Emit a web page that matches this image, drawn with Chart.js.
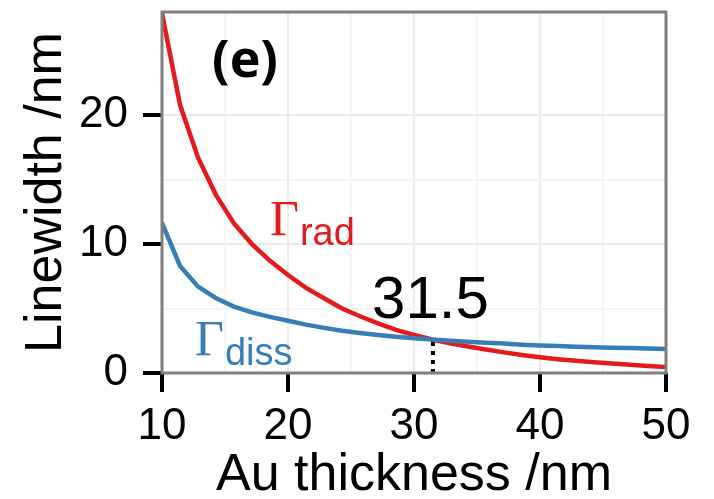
<!DOCTYPE html>
<html>
<head>
<meta charset="utf-8">
<script src="https://cdn.jsdelivr.net/npm/chart.js@4.4.1/dist/chart.umd.min.js"></script>
<style>
  html, body { margin: 0; padding: 0; background: #fff; }
  #wrap { width: 714px; height: 499px; position: relative; }
</style>
</head>
<body>
<div id="wrap"><canvas id="chart"></canvas></div>
<script>
// Au thickness (nm) and the two linewidths (nm)
const thickness = [10, 11.43, 12.86, 14.29, 15.71, 17.14, 18.57, 20, 21.43, 22.86,
                   24.29, 25.71, 27.14, 28.57, 30, 31.43, 32.86, 34.29, 35.71, 37.14,
                   38.57, 40, 41.43, 42.86, 44.29, 45.71, 47.14, 48.57, 50];
const gammaRad = [27.9, 20.8, 16.7, 13.8, 11.6, 10.0, 8.7, 7.6, 6.6, 5.8,
                  5.0, 4.4, 3.85, 3.35, 2.95, 2.6, 2.3, 2.05, 1.82, 1.6,
                  1.4, 1.22, 1.07, 0.95, 0.84, 0.73, 0.64, 0.55, 0.47];
const gammaDiss = [11.65, 8.3, 6.7, 5.8, 5.15, 4.7, 4.35, 4.05, 3.75, 3.5,
                   3.28, 3.1, 2.95, 2.82, 2.7, 2.6, 2.5, 2.42, 2.35, 2.28,
                   2.2, 2.14, 2.09, 2.04, 2.0, 1.96, 1.93, 1.9, 1.87];
const crossX = 31.5;
const crossY = 2.6;
const xLabelTicks = [10, 20, 30, 40, 50];
const yLabelTicks = [0, 10, 20];

const RED = '#e41a1c';
const BLUE = '#377eb8';
const SANS = '"Liberation Sans", Arial, Helvetica, sans-serif';

function toPoints(xs, ys) {
  return xs.map((x, i) => ({ x: x, y: ys[i] }));
}

// text annotations, anchored at data coordinates (left, baseline)
const notes = [
  { x: 13.97, y: 22.96, text: '(e)', font: 'bold 52px "Open Sans", ' + SANS, color: '#000' },
  { x: 18.57, y: 10.74, text: 'Γ', sub: 'rad', color: RED },
  { x: 12.62, y: 1.40, text: 'Γ', sub: 'diss', color: BLUE },
  { x: 26.67, y: 4.28, text: String(crossX), font: '60px ' + SANS, color: '#000' },
];

const panelDecor = {
  id: 'panelDecor',
  afterDatasetsDraw(chart) {
    const { ctx, chartArea: a, scales: { x, y } } = chart;
    ctx.save();
    ctx.strokeStyle = '#7f7f7f';
    ctx.lineWidth = 3;
    ctx.strokeRect(a.left, a.top, a.right - a.left, a.bottom - a.top);

    ctx.textAlign = 'left';
    ctx.textBaseline = 'alphabetic';
    notes.forEach(n => {
      const px = x.getPixelForValue(n.x);
      const py = y.getPixelForValue(n.y);
      ctx.fillStyle = n.color;
      if (n.sub) {
        ctx.font = '50px "Liberation Serif", "Times New Roman", serif';
        ctx.fillText(n.text, px, py);
        const w = ctx.measureText(n.text).width;
        ctx.font = '38px ' + SANS;
        ctx.fillText(n.sub, px + w + 1, py + 10);
      } else {
        ctx.font = n.font;
        ctx.fillText(n.text, px, py);
      }
    });
    ctx.restore();
  }
};

const isMajorX = v => xLabelTicks.includes(v);
const isMajorY = v => yLabelTicks.includes(v);

new Chart(document.getElementById('chart'), {
  type: 'line',
  data: {
    datasets: [
      {
        data: toPoints(thickness, gammaDiss),
        borderColor: BLUE,
        borderWidth: 4.5,
        pointRadius: 0,
        tension: 0
      },
      {
        data: toPoints(thickness, gammaRad),
        borderColor: RED,
        borderWidth: 4.5,
        pointRadius: 0,
        tension: 0
      },
      {
        data: [{ x: crossX, y: 0 }, { x: crossX, y: crossY }],
        borderColor: '#000',
        borderWidth: 4,
        borderDash: [4, 5],
        pointRadius: 0
      }
    ]
  },
  options: {
    responsive: true,
    maintainAspectRatio: false,
    animation: false,
    layout: { padding: { top: 12, right: 48, left: 0, bottom: 0 } },
    plugins: {
      legend: { display: false },
      tooltip: { enabled: false }
    },
    scales: {
      x: {
        type: 'linear',
        min: 10,
        max: 50,
        border: { display: false },
        grid: {
          color: c => isMajorX(c.tick.value) ? '#ebebeb' : '#f5f5f5',
          lineWidth: 2,
          tickColor: c => isMajorX(c.tick.value) ? '#000' : 'rgba(0,0,0,0)',
          tickWidth: 4,
          tickLength: 19
        },
        ticks: {
          stepSize: 5,
          autoSkip: false,
          maxRotation: 0,
          color: '#000',
          padding: 8,
          font: { family: SANS, size: 44 },
          callback: v => isMajorX(v) ? String(v) : ''
        },
        title: {
          display: true,
          text: 'Au thickness /nm',
          color: '#000',
          font: { family: SANS, size: 52, lineHeight: 0.9 },
          padding: { top: 0, bottom: 0 }
        },
        afterFit: s => { s.height = 126; s.paddingLeft = 0; s.paddingRight = 0; }
      },
      y: {
        min: 0,
        max: 28,
        border: { display: false },
        afterBuildTicks: s => { s.ticks = s.ticks.filter(t => t.value % 5 === 0); },
        grid: {
          color: c => isMajorY(c.tick.value) ? '#ebebeb' : '#f5f5f5',
          lineWidth: 2,
          tickColor: c => isMajorY(c.tick.value) ? '#000' : 'rgba(0,0,0,0)',
          tickWidth: 4,
          tickLength: 19
        },
        ticks: {
          stepSize: 5,
          autoSkip: false,
          color: '#000',
          padding: 15,
          font: { family: SANS, size: 44 },
          callback: v => isMajorY(v) ? String(v) : ''
        },
        title: {
          display: true,
          text: 'Linewidth /nm',
          color: '#000',
          font: { family: SANS, size: 52, lineHeight: 1 },
          padding: { top: 21, bottom: 0 }
        },
        afterFit: s => { s.width = 162; s.paddingTop = 0; s.paddingBottom = 0; }
      }
    }
  },
  plugins: [panelDecor]
});
</script>
</body>
</html>
